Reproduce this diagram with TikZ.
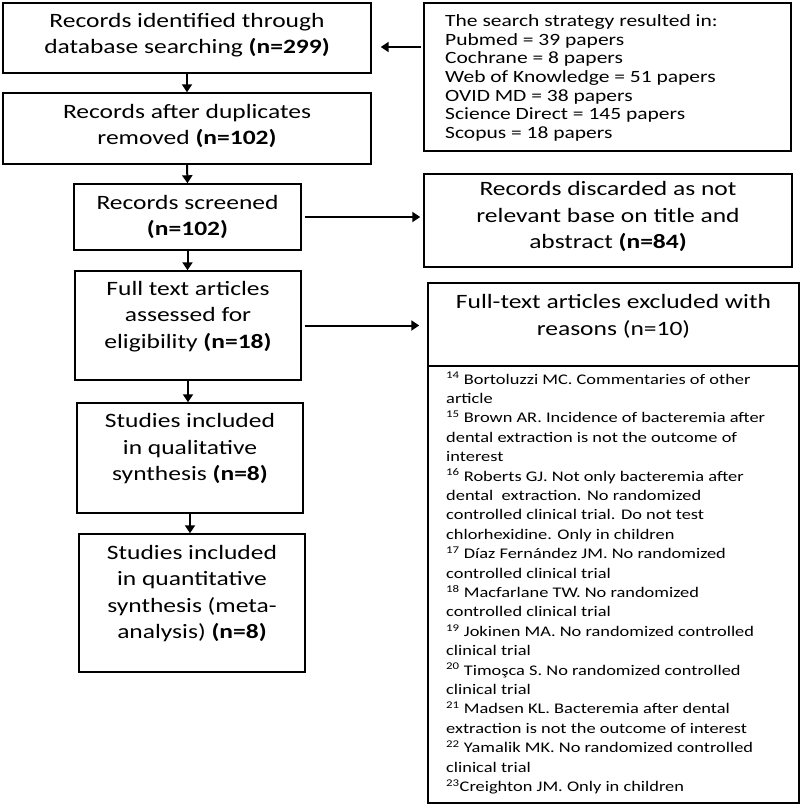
\documentclass[tikz,border=0pt]{standalone}
\usepackage{fontspec}
\setmainfont{Carlito}[FakeStretch=1.25]
\usetikzlibrary{arrows.meta}
\begin{document}
\begin{tikzpicture}[x=1pt,y=-1pt,
  box/.style={draw=black, line width=1.4pt, inner sep=0pt},
  main/.style={align=center, font=\fontsize{20.4}{26.5}\selectfont, inner sep=0pt},
  listtxt/.style={align=left, inner sep=0pt},
  arr/.style={line width=2pt, -{Triangle[width=10pt,length=8pt]}}]
\useasboundingbox (0,0) rectangle (800,808);
\fill[white] (0,0) rectangle (800,808);

% left column boxes
\node[box, minimum width=368pt, minimum height=70pt] (b1) at (187,38) {};
\node[main] (t1) at ([yshift=3pt]b1.center) {Records identified through\\database searching \textbf{(n=299)}};

\node[box, minimum width=368pt, minimum height=71pt] (b3) at (187,128.5) {};
\node[main] (t3) at ([yshift=2.5pt]b3.center) {Records after duplicates\\removed \textbf{(n=102)}};

\node[box, minimum width=227pt, minimum height=66pt] (b4) at (187.5,217) {};
\node[main] (t4) at (b4.center) {Records screened\\\textbf{(n=102)}};

\node[box, minimum width=226pt, minimum height=109pt] (b6) at (188,325.5) {};
\node[main] (t6) at ([yshift=9pt]b6.center) {Full text articles\\assessed for\\eligibility \textbf{(n=18)}};

\node[box, minimum width=226pt, minimum height=110pt] (b9) at (190,458) {};
\node[main] (t9) at ([yshift=9pt]b9.center) {Studies included\\in qualitative\\synthesis \textbf{(n=8)}};

\node[box, minimum width=226pt, minimum height=138pt] (b10) at (192,603) {};
\node[main] (t10) at ([yshift=9.5pt]b10.center) {Studies included\\in quantitative\\synthesis (meta-\\analysis) \textbf{(n=8)}};

% right column boxes
\node[box, minimum width=367pt, minimum height=148pt] (b2) at (607.5,77) {};
\node[listtxt, anchor=west, font=\fontsize{17.2}{18.6}\selectfont] (t2) at (445,78) {The search strategy resulted in:\\Pubmed = 39 papers\\Cochrane = 8 papers\\Web of Knowledge = 51 papers\\OVID MD = 38 papers\\Science Direct = 145 papers\\Scopus = 18 papers};

\node[box, minimum width=368pt, minimum height=93pt] (b5) at (608,220.5) {};
\node[main] (t5) at ([yshift=4pt]b5.center) {Records discarded as not\\relevant base on title and\\abstract \textbf{(n=84)}};

\node[box, minimum width=371pt, minimum height=83pt] (b7) at (613.5,324.5) {};
\node[main] (t7) at ([yshift=8pt]b7.center) {Full-text articles excluded with\\reasons (n=10)};

\node[box, minimum width=371pt, minimum height=437pt] (b8) at (613.5,584.5) {};
\node[listtxt, anchor=north west, font=\fontsize{14.7}{19.4}\selectfont] (t8) at (446,372) {%
\textsuperscript{14} Bortoluzzi MC. Commentaries of other\\
article\\
\textsuperscript{15} Brown AR. Incidence of bacteremia after\\
dental extraction is not the outcome of\\
interest\\
\textsuperscript{16} Roberts GJ. Not only bacteremia after\\
dental\ \ extraction. No randomized\\
controlled clinical trial. Do not test\\
chlorhexidine. Only in children\\
\textsuperscript{17} Díaz Fernández JM. No randomized\\
controlled clinical trial\\
\textsuperscript{18} Macfarlane TW. No randomized\\
controlled clinical trial\\
\textsuperscript{19} Jokinen MA. No randomized controlled\\
clinical trial\\
\textsuperscript{20} Timoşca S. No randomized controlled\\
clinical trial\\
\textsuperscript{21} Madsen KL. Bacteremia after dental\\
extraction is not the outcome of interest\\
\textsuperscript{22} Yamalik MK. No randomized controlled\\
clinical trial\\
\textsuperscript{23}Creighton JM. Only in children};

% connectors
\draw[arr] (b1.south) -- (b3.north);
\draw[arr] (b3.south) -- (b4.north);
\draw[arr] (b4.south) -- (b4.south |- b6.north);
\draw[arr] (b6.south) -- (b6.south |- b9.north);
\draw[arr] (b9.south) -- (b9.south |- b10.north);
\draw[arr, shorten <=2pt, shorten >=9pt] ([yshift=30pt]b2.west) coordinate (s2) -- (s2 -| b1.east);
\draw[arr, shorten <=3pt, shorten >=3pt] (b4.east) -- (b4.east -| b5.west);
\draw[arr, shorten <=3pt, shorten >=8pt] (b6.east) -- (b6.east -| b7.west);
\end{tikzpicture}
\end{document}
